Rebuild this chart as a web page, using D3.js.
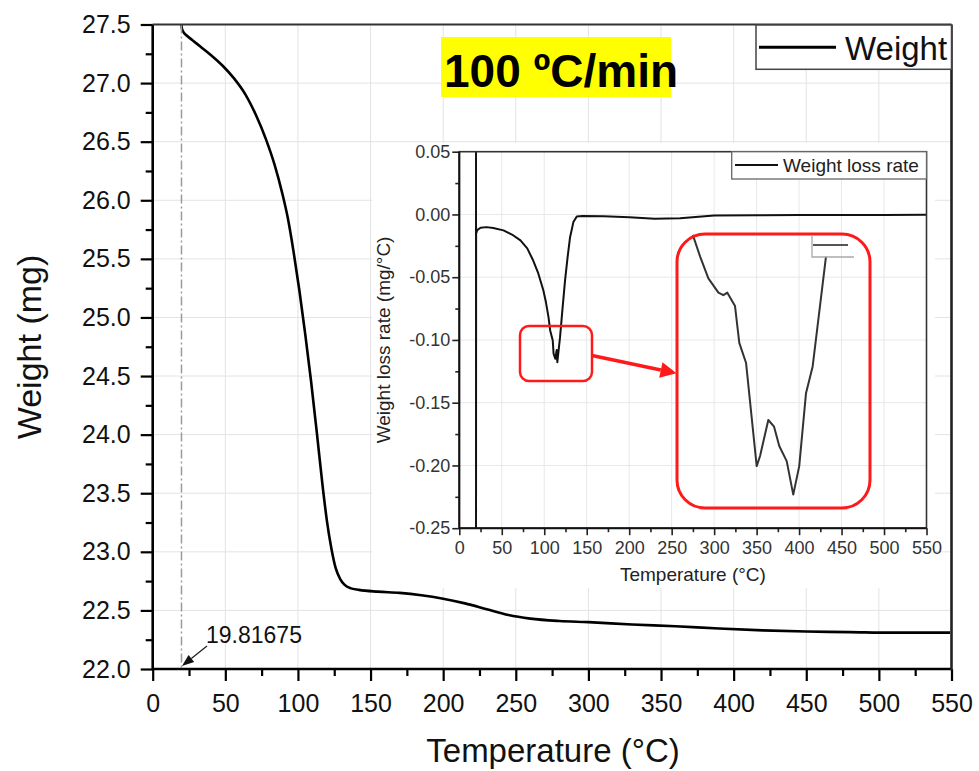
<!DOCTYPE html>
<html><head><meta charset="utf-8">
<script src="https://cdn.jsdelivr.net/npm/d3@7"></script>
<style>
body{margin:0;background:#fff}
svg{display:block}
text{font-family:"Liberation Sans",Arial,sans-serif}
</style>
</head><body>
<svg id="c" width="979" height="771"></svg>
<script>
// ---------------- data ----------------
const tempTicks = [0,50,100,150,200,250,300,350,400,450,500,550];
const tempMinorTicks = [25,75,125,175,225,275,325,375,425,475,525];
const weightTicks = [22.0,22.5,23.0,23.5,24.0,24.5,25.0,25.5,26.0,26.5,27.0,27.5];
const weightMinorTicks = [22.25,22.75,23.25,23.75,24.25,24.75,25.25,25.75,26.25,26.75,27.25];
const rateTicks = [-0.25,-0.20,-0.15,-0.10,-0.05,0.00,0.05];
const rateMinorTicks = [-0.225,-0.175,-0.125,-0.075,-0.025,0.025];

// main TGA curve: temperature (°C) and weight (mg)
const mainT = [19.82,20.2,21.5,24,28,33,40,48,56,64,71,78,84,89,93,97,101,105,109,113,117,120,123,126,129,132,136,142,155,170,185,200,215,230,245,260,280,300,330,360,390,420,450,480,510,549];
const mainWeight = [27.50,27.46,27.43,27.40,27.36,27.31,27.24,27.15,27.04,26.90,26.73,26.52,26.30,26.07,25.85,25.56,25.23,24.86,24.46,24.02,23.56,23.26,23.03,22.86,22.77,22.72,22.69,22.675,22.66,22.65,22.63,22.60,22.56,22.51,22.46,22.43,22.41,22.40,22.38,22.365,22.345,22.33,22.32,22.315,22.31,22.31];

// inset DTG curve: temperature (°C) and weight loss rate (mg/°C)
const rateT = [19.7,19.7,19.8,21,25,32,40,52,62,72,80,87,93,99,102,105,107,110,111,113,114.7,115.4,118.6,121.5,124.5,127.5,130.4,134.3,138.3,145,170,200,230,260,300,350,400,450,500,550];
const rateVal = [0.05,-0.25,-0.0154,-0.0125,-0.0106,-0.0101,-0.0108,-0.0127,-0.016,-0.0207,-0.027,-0.0367,-0.047,-0.0606,-0.070,-0.0818,-0.0924,-0.1004,-0.111,-0.115,-0.108,-0.1177,-0.0978,-0.075,-0.0526,-0.034,-0.0181,-0.0061,-0.0016,-0.0012,-0.0015,-0.0022,-0.0034,-0.003,-0.0008,-0.0006,-0.0004,-0.0005,-0.0004,-0.0003];

// magnified peak (inside the large red frame)
const zoomT = [106.5,107.15,107.88,108.77,109.21,109.56,110.24,110.62,111.22,112.16,112.46,113.19,113.7,114.16,114.82,115.4,115.93,116.53,117.12,118.3];
const zoomRate = [-0.0880,-0.0906,-0.0932,-0.0949,-0.0952,-0.0949,-0.0965,-0.1009,-0.1033,-0.1156,-0.1144,-0.1101,-0.1109,-0.1132,-0.1150,-0.1190,-0.1156,-0.1069,-0.1037,-0.0906];

const onsetTemp = 19.81675;

// ---------------- drawing ----------------
const svg = d3.select("#c");
const x = d3.scaleLinear().domain([0,550]).range([152.7,951.5]);
const y = d3.scaleLinear().domain([22,27.5]).range([669,24.5]);

// main grid
const grid = svg.append("g").attr("stroke","#e3e3e3").attr("stroke-width",1);
grid.selectAll("line.v").data(tempTicks.filter(t=>t>0&&t<550)).join("line")
  .attr("x1",d=>x(d)).attr("x2",d=>x(d)).attr("y1",y(22)).attr("y2",y(27.5));
grid.selectAll("line.h").data(weightTicks.filter(t=>t>22&&t<27.5)).join("line")
  .attr("x1",x(0)).attr("x2",x(550)).attr("y1",d=>y(d)).attr("y2",d=>y(d));

// main curve
svg.append("path").datum(d3.zip(mainT,mainWeight))
  .attr("d", d3.line().x(d=>x(d[0])).y(d=>y(d[1])).curve(d3.curveMonotoneX))
  .attr("fill","none").attr("stroke","#000").attr("stroke-width",2.6);

// onset dash-dot line
svg.append("line").attr("x1",x(onsetTemp)).attr("x2",x(onsetTemp))
  .attr("y1",y(27.5)).attr("y2",y(22))
  .attr("stroke","#9a9a9a").attr("stroke-width",1.5).attr("stroke-dasharray","9,3,2,3");

// main axes
function styleAxis(g, fs, col){
  g.select(".domain").remove();
  g.selectAll(".tick line").attr("stroke","#000").attr("stroke-width",2.2);
  g.selectAll(".tick text").attr("font-size",fs).attr("fill",col)
    .attr("font-family",'"Liberation Sans",Arial,sans-serif');
}
const gx = svg.append("g").attr("transform",`translate(0,${y(22)})`)
  .call(d3.axisBottom(x).tickValues(tempTicks).tickSize(12).tickPadding(13).tickSizeOuter(0).tickFormat(d3.format("d")));
styleAxis(gx,25,"#111");
const gxm = svg.append("g").attr("transform",`translate(0,${y(22)})`)
  .call(d3.axisBottom(x).tickValues(tempMinorTicks).tickSize(7).tickSizeOuter(0).tickFormat(""));
styleAxis(gxm,25,"#111");
const gy = svg.append("g").attr("transform",`translate(${x(0)},0)`)
  .call(d3.axisLeft(y).tickValues(weightTicks).tickSize(12).tickPadding(10).tickSizeOuter(0).tickFormat(d=>d.toFixed(1)));
styleAxis(gy,25,"#111");
const gym = svg.append("g").attr("transform",`translate(${x(0)},0)`)
  .call(d3.axisLeft(y).tickValues(weightMinorTicks).tickSize(7).tickSizeOuter(0).tickFormat(""));
styleAxis(gym,25,"#111");
// axis lines & frame
svg.append("line").attr("x1",x(0)).attr("x2",x(550)).attr("y1",y(22)).attr("y2",y(22)).attr("stroke","#000").attr("stroke-width",2.6);
svg.append("line").attr("x1",x(0)).attr("x2",x(0)).attr("y1",y(22)+1.3).attr("y2",y(27.5)).attr("stroke","#000").attr("stroke-width",2.6);
svg.append("line").attr("x1",x(0)).attr("x2",x(550)).attr("y1",y(27.5)).attr("y2",y(27.5)).attr("stroke","#333").attr("stroke-width",2);
svg.append("line").attr("x1",x(550)).attr("x2",x(550)).attr("y1",y(27.5)).attr("y2",y(22)+1.3).attr("stroke","#222").attr("stroke-width",2.6);

// axis titles
svg.append("text").attr("x",553).attr("y",762).attr("text-anchor","middle")
  .attr("font-size",33).attr("fill","#111").text("Temperature (°C)");
svg.append("text").attr("transform","translate(41,347) rotate(-90)").attr("text-anchor","middle")
  .attr("font-size",34).attr("fill","#111").text("Weight (mg)");

// onset annotation
svg.append("text").attr("x",206).attr("y",643).attr("font-size",23).attr("fill","#111").text(onsetTemp.toString());
{
  const x1=207,y1=646,x2=x(onsetTemp)+0.5,y2=666;
  const ang=Math.atan2(y2-y1,x2-x1), L=12, Wd=4.5;
  const bx=x2-L*Math.cos(ang), by=y2-L*Math.sin(ang);
  svg.append("line").attr("x1",x1).attr("y1",y1).attr("x2",bx).attr("y2",by).attr("stroke","#222").attr("stroke-width",1.3);
  svg.append("path").attr("d",`M${x2},${y2}L${bx+Wd*Math.sin(ang)},${by-Wd*Math.cos(ang)}L${bx-Wd*Math.sin(ang)},${by+Wd*Math.cos(ang)}Z`).attr("fill","#111");
}

// legend (main)
svg.append("rect").attr("x",756).attr("y",25).attr("width",195.5).attr("height",44.3)
  .attr("fill","#fff").attr("stroke","#444").attr("stroke-width",1.5);
svg.append("line").attr("x1",759).attr("x2",836).attr("y1",47.3).attr("y2",47.3).attr("stroke","#000").attr("stroke-width",3);
svg.append("text").attr("x",845).attr("y",60).attr("font-size",33).attr("fill","#111").text("Weight");

// title
svg.append("rect").attr("x",441).attr("y",37).attr("width",230).attr("height",60).attr("fill","#ffff00");
svg.append("text").attr("x",444).attr("y",87).attr("font-family","Lato, 'Open Sans', sans-serif")
  .attr("font-weight","bold").attr("font-size",46).attr("fill","#000").text("100 ºC/min");

// ---------------- inset ----------------
const ix = d3.scaleLinear().domain([0,550]).range([459.3,926.5]);
const iy = d3.scaleLinear().domain([-0.25,0.05]).range([528.2,151.7]);
const inset = svg.append("g");
inset.append("rect").attr("x",372).attr("y",143).attr("width",563).attr("height",445).attr("fill","#fff");
const ig = inset.append("g").attr("stroke","#e8e8e8").attr("stroke-width",1);
ig.selectAll("line.v").data(tempTicks.filter(t=>t>0&&t<550)).join("line")
  .attr("x1",d=>ix(d)).attr("x2",d=>ix(d)).attr("y1",iy(-0.25)).attr("y2",iy(0.05));
ig.selectAll("line.h").data(rateTicks.filter(t=>t>-0.25&&t<0.05)).join("line")
  .attr("x1",ix(0)).attr("x2",ix(550)).attr("y1",d=>iy(d)).attr("y2",d=>iy(d));

svg.append("clipPath").attr("id","iclip").append("rect")
  .attr("x",ix(0)).attr("y",iy(0.05)).attr("width",ix(550)-ix(0)).attr("height",iy(-0.25)-iy(0.05));
inset.append("path").datum(d3.zip(rateT,rateVal)).attr("clip-path","url(#iclip)")
  .attr("d", d3.line().x(d=>ix(d[0])).y(d=>iy(d[1])))
  .attr("fill","none").attr("stroke","#111").attr("stroke-width",2).attr("stroke-linejoin","round");

const fmt2 = d=>d.toFixed(2);
function styleInset(g){
  g.select(".domain").remove();
  g.selectAll(".tick line").attr("stroke","#222").attr("stroke-width",1.6);
  g.selectAll(".tick text").attr("font-size",18).attr("fill","#333")
    .attr("font-family",'"Liberation Sans",Arial,sans-serif');
}
const igx = inset.append("g").attr("transform",`translate(0,${iy(-0.25)})`)
  .call(d3.axisBottom(ix).tickValues(tempTicks).tickSize(7).tickPadding(6).tickSizeOuter(0).tickFormat(d3.format("d")));
styleInset(igx);
const igxm = inset.append("g").attr("transform",`translate(0,${iy(-0.25)})`)
  .call(d3.axisBottom(ix).tickValues(tempMinorTicks).tickSize(4).tickSizeOuter(0).tickFormat(""));
styleInset(igxm);
const igy = inset.append("g").attr("transform",`translate(${ix(0)},0)`)
  .call(d3.axisLeft(iy).tickValues(rateTicks).tickSize(7).tickPadding(2).tickSizeOuter(0).tickFormat(fmt2));
styleInset(igy);
const igym = inset.append("g").attr("transform",`translate(${ix(0)},0)`)
  .call(d3.axisLeft(iy).tickValues(rateMinorTicks).tickSize(4).tickSizeOuter(0).tickFormat(""));
styleInset(igym);
inset.append("rect").attr("x",ix(0)).attr("y",iy(0.05)).attr("width",ix(550)-ix(0)).attr("height",iy(-0.25)-iy(0.05))
  .attr("fill","none").attr("stroke","#333").attr("stroke-width",1.6);
inset.append("line").attr("x1",ix(0)).attr("x2",ix(550)).attr("y1",iy(-0.25)).attr("y2",iy(-0.25)).attr("stroke","#111").attr("stroke-width",2);
inset.append("line").attr("x1",ix(0)).attr("x2",ix(0)).attr("y1",iy(-0.25)).attr("y2",iy(0.05)).attr("stroke","#111").attr("stroke-width",2);

inset.append("text").attr("x",(ix(0)+ix(550))/2).attr("y",581).attr("text-anchor","middle")
  .attr("font-size",19).attr("fill","#222").text("Temperature (°C)");
inset.append("text").attr("transform",`translate(390,${(iy(0.05)+iy(-0.25))/2}) rotate(-90)`).attr("text-anchor","middle")
  .attr("font-size",19).attr("fill","#222").text("Weight loss rate (mg/°C)");

// inset legend
inset.append("rect").attr("x",731.7).attr("y",151.7).attr("width",926.5-731.7).attr("height",27.3)
  .attr("fill","#fff").attr("stroke","#666").attr("stroke-width",1.3);
inset.append("line").attr("x1",735).attr("x2",778).attr("y1",165).attr("y2",165).attr("stroke","#111").attr("stroke-width",2);
inset.append("text").attr("x",783).attr("y",172).attr("font-size",19).attr("fill","#222").text("Weight loss rate");

// small red frame
inset.append("rect").attr("x",520).attr("y",326).attr("width",72).attr("height",55).attr("rx",9)
  .attr("fill","none").attr("stroke","#ff1a1a").attr("stroke-width",2.5);
// big red frame with magnified peak
const zx = d3.scaleLinear().domain([105.1,122.2]).range([677,870]);
const zy = d3.scaleLinear().domain([-0.1206,-0.0879]).range([508,234]);
inset.append("path").datum(d3.zip(zoomT,zoomRate))
  .attr("d", d3.line().x(d=>zx(d[0])).y(d=>zy(d[1])))
  .attr("fill","none").attr("stroke","#333").attr("stroke-width",2).attr("stroke-linejoin","round");
inset.append("path").attr("d","M812,236V257H854").attr("fill","none").attr("stroke","#aaa").attr("stroke-width",1.3);
inset.append("line").attr("x1",813).attr("x2",848).attr("y1",245).attr("y2",245).attr("stroke","#555").attr("stroke-width",2);
inset.append("rect").attr("x",677).attr("y",234).attr("width",193).attr("height",274).attr("rx",28)
  .attr("fill","none").attr("stroke","#ff1a1a").attr("stroke-width",3);
// red arrow
{
  const x1=592,y1=355.5,x2=676.5,y2=373.3;
  const ang=Math.atan2(y2-y1,x2-x1), L=16, Wd=8;
  const bx=x2-L*Math.cos(ang), by=y2-L*Math.sin(ang);
  inset.append("line").attr("x1",x1).attr("y1",y1).attr("x2",bx).attr("y2",by).attr("stroke","#ff1a1a").attr("stroke-width",3.5);
  inset.append("path").attr("d",`M${x2},${y2}L${bx+Wd*Math.sin(ang)},${by-Wd*Math.cos(ang)}L${bx-Wd*Math.sin(ang)},${by+Wd*Math.cos(ang)}Z`).attr("fill","#ff1a1a");
}
</script>
</body></html>
